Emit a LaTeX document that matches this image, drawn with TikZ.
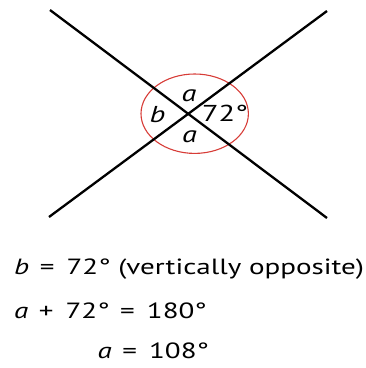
\documentclass[tikz,border=0pt]{standalone}
\usepackage{graphicx}
\usepackage{fontspec}
\setmainfont{PT Sans}
\newcommand{\wide}[1]{\scalebox{1.32}[1]{#1}}
\newcommand{\op}[1]{\hspace{0.36em}#1\hspace{0.42em}}
\begin{document}
\begin{tikzpicture}[x=1pt,y=-1pt,
  lineseg/.style={line width=2.3pt,black},
  anglering/.style={draw=ringred,line width=1.1pt},
  lbl/.style={font=\fontsize{23}{27}\selectfont,inner sep=0pt,anchor=base},
  eq/.style={font=\fontsize{22}{26}\selectfont,inner sep=0pt,anchor=base west}]
\definecolor{ringred}{RGB}{215,60,55}
\useasboundingbox (0,0) rectangle (366,368);
\coordinate (A1) at (50,10);
\coordinate (A2) at (327,218);
\coordinate (B1) at (49,217);
\coordinate (B2) at (327,11);
\draw[anglering] (194.7,113.7) ellipse [x radius=53.7, y radius=39.7];
\draw[lineseg] (A1) -- (A2);
\draw[lineseg] (B1) -- (B2);
\node[lbl] (la) at (189,101.7) {\wide{\itshape a}};
\node[lbl] (lb) at (157.5,122.3) {\wide{\itshape b}};
\node[lbl] (lc) at (225,121.7) {\wide{72°}};
\node[lbl] (ld) at (189.5,142.3) {\wide{\itshape a}};
\node[eq] (e1) at (14,274.5) {\wide{{\itshape b}\op{=}72° (vertically opposite)}};
\node[eq] (e2) at (14,318) {\wide{{\itshape a}\op{+}72°\op{=}180°}};
\node[eq] (e3) at (97.5,358) {\wide{{\itshape a}\op{=}108°}};
\end{tikzpicture}
\end{document}
